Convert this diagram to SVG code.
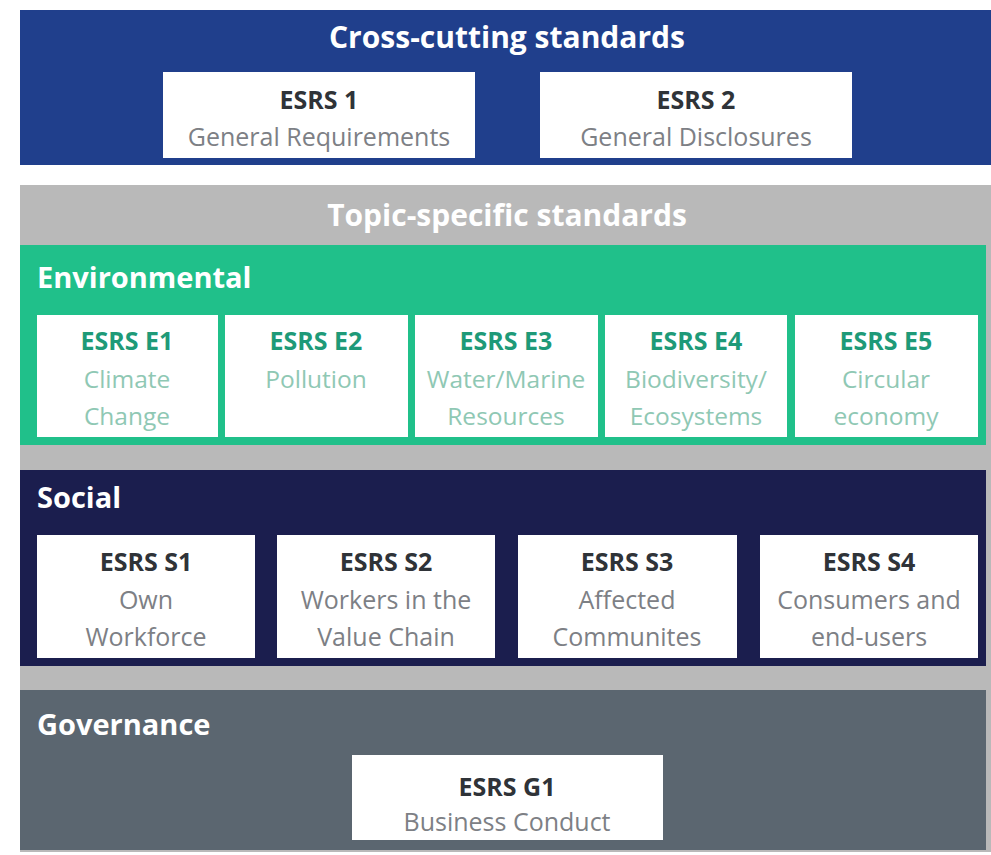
<svg xmlns="http://www.w3.org/2000/svg" width="991" height="855" viewBox="0 0 991 855">
<style>
text{font-family:"Open Sans","Liberation Sans",sans-serif;}
.hdr{fill:#fff;font-weight:700;font-size:30px;text-anchor:middle}
.sec{fill:#fff;font-weight:700;font-size:29px}
.box{fill:#fff}
.t{font-weight:700;font-size:25px;text-anchor:middle;fill:#2f3338}
.s{font-size:25px;text-anchor:middle;fill:#7d8085}
.te{font-weight:700;font-size:25px;text-anchor:middle;fill:#1e9a78}
.se{font-size:24.5px;text-anchor:middle;fill:#8fc8b4}
</style>
<rect width="991" height="855" fill="#fff"/>
<g id="cross-cutting">
<rect x="20" y="10" width="971" height="155" fill="#203f8c"/>
<text class="hdr" x="507" y="48">Cross-cutting standards</text>
</g>
<g id="esrs1"><rect class="box" x="163" y="72" width="312" height="86"/>
<text class="t" x="319" y="109">ESRS 1</text><text class="s" x="319" y="146">General Requirements</text></g>
<g id="esrs2"><rect class="box" x="540" y="72" width="312" height="86"/>
<text class="t" x="696" y="109">ESRS 2</text><text class="s" x="696" y="146">General Disclosures</text></g>
<g id="topic">
<rect x="20" y="185" width="971" height="667" fill="#b9b9b9"/>
<text class="hdr" x="507" y="226">Topic-specific standards</text>
</g>
<g id="environmental">
<rect x="20" y="245" width="966" height="200" fill="#20c08a"/>
<text class="sec" x="37" y="288">Environmental</text>
</g>
<g id="e1"><rect class="box" x="37" y="315" width="181" height="122"/>
<text class="te" x="127" y="350">ESRS E1</text><text class="se" x="127" y="388">Climate</text><text class="se" x="127" y="425">Change</text></g>
<g id="e2"><rect class="box" x="225" y="315" width="183" height="122"/>
<text class="te" x="316" y="350">ESRS E2</text><text class="se" x="316" y="388">Pollution</text></g>
<g id="e3"><rect class="box" x="415" y="315" width="183" height="122"/>
<text class="te" x="506" y="350">ESRS E3</text><text class="se" x="506" y="388">Water/Marine</text><text class="se" x="506" y="425">Resources</text></g>
<g id="e4"><rect class="box" x="605" y="315" width="182" height="122"/>
<text class="te" x="696" y="350">ESRS E4</text><text class="se" x="696" y="388">Biodiversity/</text><text class="se" x="696" y="425">Ecosystems</text></g>
<g id="e5"><rect class="box" x="795" y="315" width="183" height="122"/>
<text class="te" x="886" y="350">ESRS E5</text><text class="se" x="886" y="388">Circular</text><text class="se" x="886" y="425">economy</text></g>
<g id="social">
<rect x="20" y="470" width="966" height="196" fill="#1b1e4e"/>
<text class="sec" x="37" y="508">Social</text>
</g>
<g id="s1"><rect class="box" x="37" y="535" width="218" height="123"/>
<text class="t" x="146" y="571">ESRS S1</text><text class="s" x="146" y="609">Own</text><text class="s" x="146" y="646">Workforce</text></g>
<g id="s2"><rect class="box" x="277" y="535" width="218" height="123"/>
<text class="t" x="386" y="571">ESRS S2</text><text class="s" x="386" y="609">Workers in the</text><text class="s" x="386" y="646">Value Chain</text></g>
<g id="s3"><rect class="box" x="518" y="535" width="219" height="123"/>
<text class="t" x="627" y="571">ESRS S3</text><text class="s" x="627" y="609">Affected</text><text class="s" x="627" y="646">Communites</text></g>
<g id="s4"><rect class="box" x="760" y="535" width="218" height="123"/>
<text class="t" x="869" y="571">ESRS S4</text><text class="s" x="869" y="609">Consumers and</text><text class="s" x="869" y="646">end-users</text></g>
<g id="governance">
<rect x="20" y="690" width="966" height="160" fill="#5b6670"/>
<text class="sec" x="37" y="735">Governance</text>
</g>
<g id="g1"><rect class="box" x="352" y="755" width="311" height="85"/>
<text class="t" x="507" y="796">ESRS G1</text><text class="s" x="507" y="831">Business Conduct</text></g>
<g id="connectors"/>
</svg>
